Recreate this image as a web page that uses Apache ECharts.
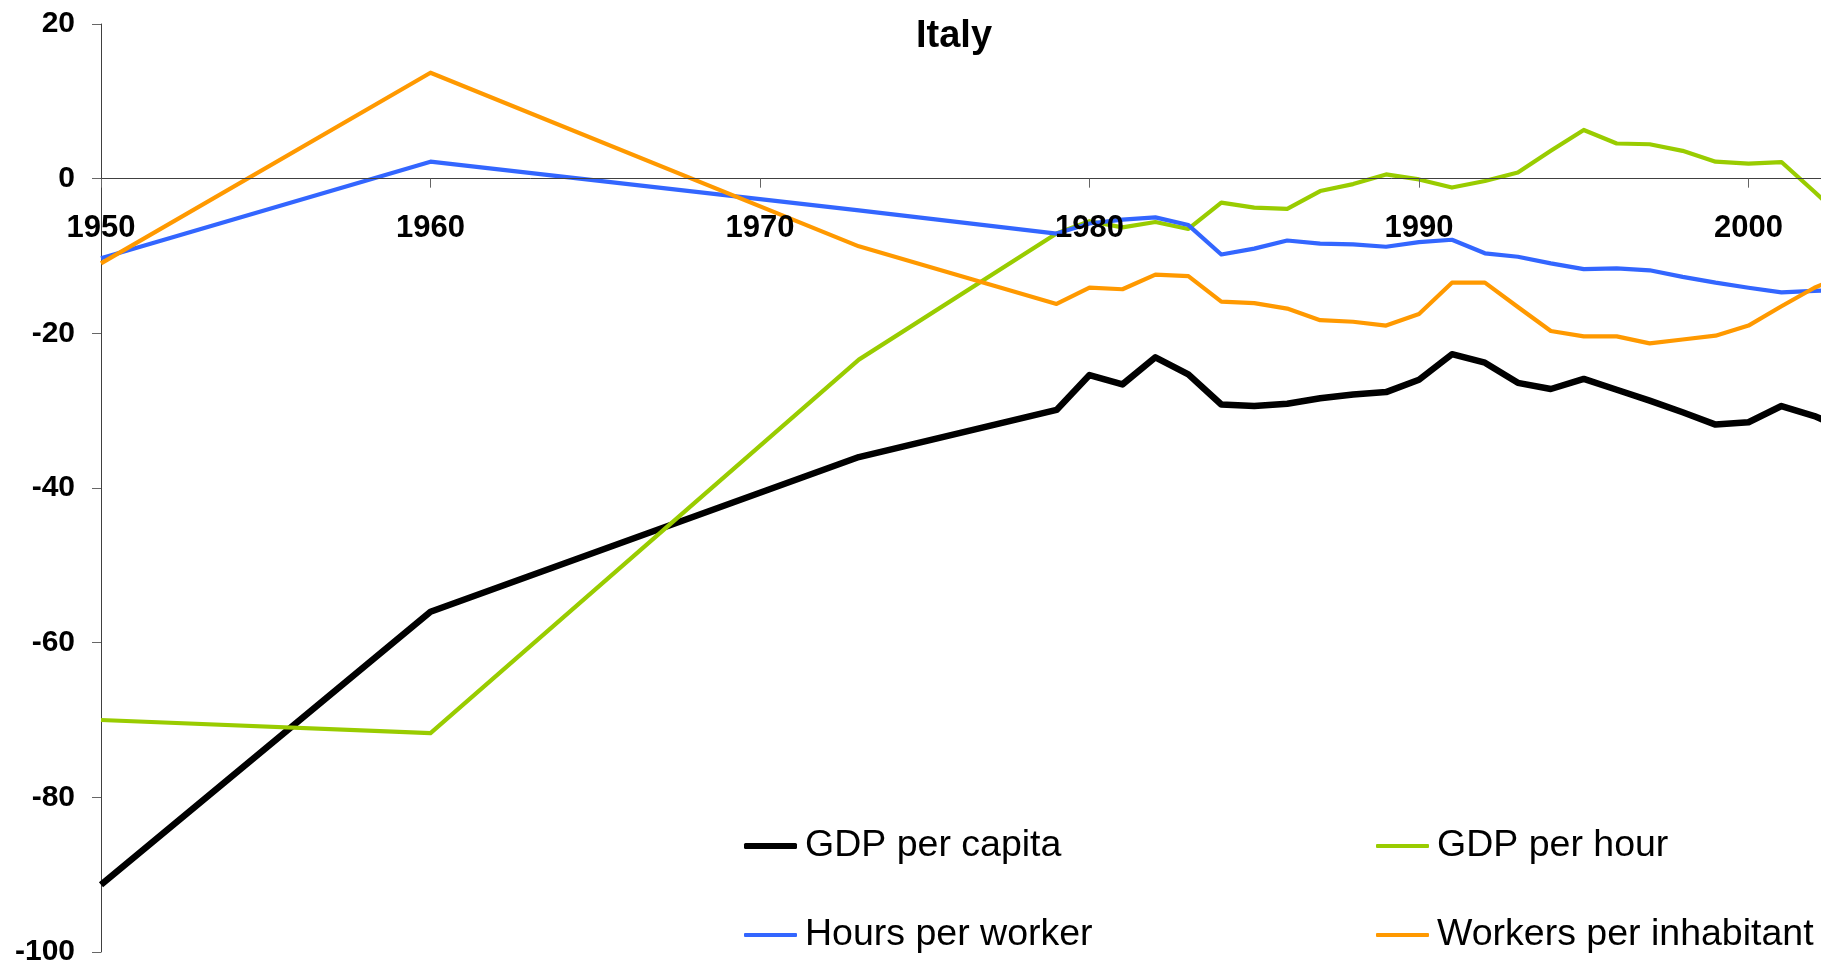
<!DOCTYPE html>
<html>
<head>
<meta charset="utf-8">
<title>Italy</title>
<script src="https://cdn.jsdelivr.net/npm/echarts@6/dist/echarts.min.js"></script>
<style>
  html, body { margin: 0; padding: 0; background: #fff; }
  #chart { width: 1821px; height: 967px; }
</style>
</head>
<body>
<div id="chart"></div>
<script>
// years with an observation (1950, 1960, 1973, then yearly from 1979)
const years = [1950, 1960, 1973, 1979, 1980, 1981, 1982, 1983, 1984, 1985, 1986, 1987, 1988, 1989,
  1990, 1991, 1992, 1993, 1994, 1995, 1996, 1997, 1998, 1999, 2000, 2001, 2002, 2003]

const gdpPerCapita = [-91.3, -56.0, -36.0, -29.9, -25.4, -26.6, -23.1, -25.3, -29.2, -29.4, -29.1, -28.4, -27.9, -27.6,
  -26.0, -22.7, -23.8, -26.4, -27.2, -25.9, -27.3, -28.7, -30.2, -31.8, -31.5, -29.4, -30.7, -32.5]
const gdpPerHour = [-70.0, -71.7, -23.4, -7.1, -5.5, -6.3, -5.6, -6.5, -3.1, -3.75, -3.9, -1.6, -0.7, 0.55,
  -0.1, -1.15, -0.3, 0.8, 3.6, 6.3, 4.55, 4.45, 3.6, 2.2, 1.95, 2.15, -1.7, -5.6]
const hoursPerWorker = [-10.3, 2.2, -4.1, -7.1, -5.8, -5.3, -5.0, -6.0, -9.8, -9.05, -8.0, -8.4, -8.5, -8.8,
  -8.2, -7.9, -9.65, -10.1, -10.95, -11.7, -11.6, -11.85, -12.7, -13.45, -14.1, -14.7, -14.5, -14.4]
const workersPerInhabitant = [-10.95, 13.7, -8.75, -16.2, -14.1, -14.3, -12.4, -12.6, -15.9, -16.1, -16.8, -18.3, -18.5, -19.0,
  -17.5, -13.45, -13.45, -16.6, -19.7, -20.4, -20.4, -21.3, -20.8, -20.3, -19.0, -16.5, -14.1, -12.4]

const xTicks = [1950, 1960, 1970, 1980, 1990, 2000]
const yTicks = [-100, -80, -60, -40, -20, 0, 20]

const FONT = '"Liberation Sans", Arial, sans-serif'

// plot box, in pixels
const GRID = { left: 101, right: 0, top: 24, bottom: 15 }
const HEIGHT = 967

function pairs(values) {
  return years.map((y, i) => [y, values[i]])
}

function lineSeries(name, values, color, width) {
  return {
    name,
    type: 'line',
    data: pairs(values),
    symbol: 'none',
    color,
    lineStyle: { color, width, join: 'round' },
    clip: true,
  }
}

function legendAt(name, left, top, height) {
  return {
    data: [name],
    left,
    top,
    padding: 0,
    icon: 'roundRect',
    itemWidth: 53,
    itemHeight: height,
    selectedMode: false,
    textStyle: { fontFamily: FONT, fontSize: 37.5, color: '#000', padding: [0, 0, 0, 3] },
  }
}

// the year axis sits on the zero line: lift it from the bottom of the grid
const yMin = yTicks[0]
const yMax = yTicks[yTicks.length - 1]
const plotH = HEIGHT - GRID.top - GRID.bottom
const zeroOffset = -plotH * (0 - yMin) / (yMax - yMin)

const chart = echarts.init(document.getElementById('chart'))

chart.setOption({
  animation: false,
  backgroundColor: '#fff',
  title: {
    text: 'Italy',
    left: 916,
    top: 18,
    padding: 0,
    textStyle: { fontFamily: FONT, fontSize: 38, fontWeight: 'bold', color: '#000' },
  },
  legend: [
    legendAt('GDP per capita', 744, 827, 6),
    legendAt('Hours per worker', 744, 916, 4),
    legendAt('GDP per hour', 1376, 827, 4),
    legendAt('Workers per inhabitant', 1376, 916, 4),
  ],
  grid: { ...GRID, outerBoundsMode: 'none', containLabel: false },
  xAxis: {
    type: 'value',
    min: 1950,
    max: 2002.2,
    interval: 10,
    position: 'bottom',
    offset: zeroOffset,
    z: 5,
    splitLine: { show: false },
    axisLine: { onZero: false, lineStyle: { color: '#404040', width: 1 } },
    axisTick: { length: 9, customValues: xTicks, lineStyle: { color: '#666' } },
    axisLabel: {
      customValues: xTicks,
      formatter: (v) => String(v),
      margin: 34,
      fontFamily: FONT,
      fontSize: 31,
      fontWeight: 'bold',
      color: '#000',
    },
  },
  yAxis: {
    type: 'value',
    min: yMin,
    max: yMax,
    interval: 20,
    splitLine: { show: false },
    axisLine: { show: true, onZero: false, lineStyle: { color: '#404040', width: 1 } },
    axisTick: { show: true, length: 9, lineStyle: { color: '#666' } },
    axisLabel: {
      margin: 26,
      fontFamily: FONT,
      fontSize: 30,
      fontWeight: 'bold',
      color: '#000',
    },
  },
  series: [
    lineSeries('GDP per capita', gdpPerCapita, '#000000', 6.5),
    lineSeries('GDP per hour', gdpPerHour, '#99cc00', 4.2),
    lineSeries('Hours per worker', hoursPerWorker, '#3366ff', 4.2),
    lineSeries('Workers per inhabitant', workersPerInhabitant, '#ff9900', 4.2),
  ],
})

window.addEventListener('resize', () => chart.resize())
</script>
</body>
</html>
